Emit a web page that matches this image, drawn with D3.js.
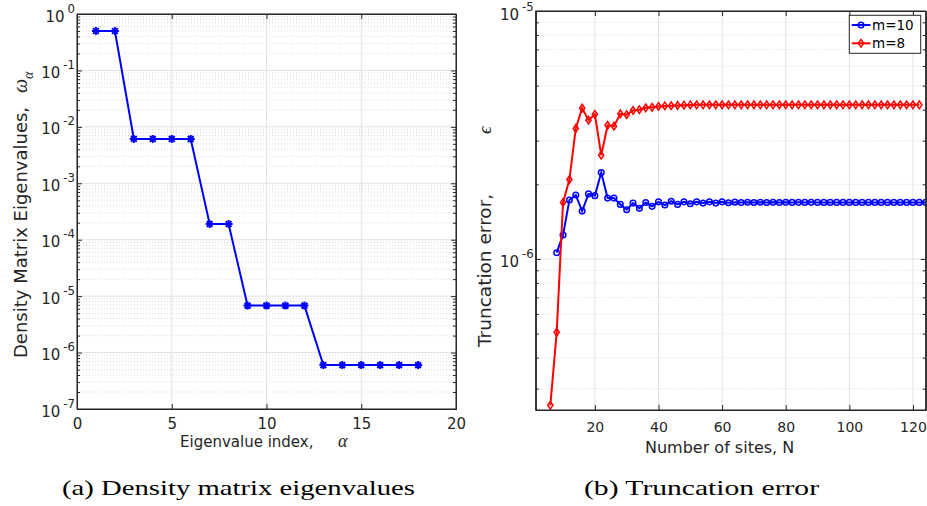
<!DOCTYPE html>
<html><head><meta charset="utf-8">
<script src="https://cdn.jsdelivr.net/npm/d3@7"></script>
<style>
body{margin:0;background:#fff}
svg{display:block}
</style>
</head><body>
<svg id="c" width="927" height="506" font-family="DejaVu Sans"></svg>
<script>
// ---------- data ----------
const eigIndex = [1,2,3,4,5,6,7,8,9,10,11,12,13,14,15,16,17,18];
const eigValues = [5.0e-1,5.0e-1,6.1e-3,6.1e-3,6.1e-3,6.1e-3,1.9e-4,1.9e-4,6.8e-6,6.8e-6,6.8e-6,6.8e-6,6.0e-7,6.0e-7,6.0e-7,6.0e-7,6.0e-7,6.0e-7];
const leftXTicks = [0,5,10,15,20];
const leftYTickExp = [0,-1,-2,-3,-4,-5,-6,-7];

const sitesM10 = [8,10,12,14,16,18,20,22,24,26,28,30,32,34,36,38,40,42,44,46,48,50,52,54,56,58,60,62,64,66,68,70,72,74,76,78,80,82,84,86,88,90,92,94,96,98,100,102,104,106,108,110,112,114,116,118,120,122,124];
const errM10 = [1.06e-6,1.25e-6,1.73e-6,1.81e-6,1.56e-6,1.83e-6,1.80e-6,2.23e-6,1.76e-6,1.76e-6,1.66e-6,1.58e-6,1.68e-6,1.60e-6,1.69e-6,1.63e-6,1.70e-6,1.65e-6,1.71e-6,1.66e-6,1.70e-6,1.67e-6,1.70e-6,1.68e-6,1.70e-6,1.68e-6,1.70e-6,1.685e-6,
  1.695e-6,1.688e-6,1.694e-6,1.689e-6,1.693e-6,1.690e-6,1.692e-6,1.690e-6,1.692e-6,1.691e-6,1.692e-6,1.691e-6,1.692e-6,1.691e-6,1.691e-6,1.691e-6,
  1.691e-6,1.691e-6,1.691e-6,1.691e-6,1.691e-6,1.691e-6,1.691e-6,1.691e-6,1.691e-6,1.691e-6,1.691e-6,1.691e-6,1.691e-6,1.691e-6,1.691e-6];
const sitesM8 = [6,8,10,12,14,16,18,20,22,24,26,28,30,32,34,36,38,40,42,44,46,48,50,52,54,56,58,60,62,64,66,68,70,72,74,76,78,80,82,84,86,88,90,92,94,96,98,100,102,104,106,108,110,112,114,116,118,120,122,124];
const errM8 = [2.57e-7,5.06e-7,1.69e-6,2.09e-6,3.36e-6,4.06e-6,3.63e-6,3.83e-6,2.62e-6,3.46e-6,3.43e-6,3.85e-6,3.82e-6,3.97e-6,4.00e-6,4.07e-6,4.09e-6,4.12e-6,4.14e-6,4.15e-6,4.16e-6,4.17e-6,4.18e-6,
  4.185e-6,4.185e-6,4.185e-6,4.185e-6,4.185e-6,4.185e-6,4.185e-6,4.185e-6,4.185e-6,4.185e-6,4.185e-6,4.185e-6,4.185e-6,4.185e-6,4.185e-6,4.185e-6,4.185e-6,4.185e-6,4.185e-6,4.185e-6,
  4.185e-6,4.185e-6,4.185e-6,4.185e-6,4.185e-6,4.185e-6,4.185e-6,4.185e-6,4.185e-6,4.185e-6,4.185e-6,4.185e-6,4.185e-6,4.185e-6,4.185e-6,4.185e-6];
const rightXTicks = [20,40,60,80,100,120];
const rightYTickExp = [-5,-6];
const legendLabels = ["m=10","m=8"];
const seriesColors = ["#0000ff","#ff0000"];

// ---------- drawing ----------
const svg = d3.select("#c");
const AX = "#262626", GRID = "#e2e2e2", MINOR = "#cfcfcf";
const SANS = "DejaVu Sans", SERIF = "Liberation Serif";

function logPanel(o){
  const {x, y, xTicks, yExp, id} = o;
  const [x0,x1] = x.range(), [y0,y1] = y.range();
  const g = svg.append("g");
  const decades = yExp.map(e=>Math.pow(10,e));
  const minor = y.ticks().filter(v=>Math.abs(Math.log10(v)-Math.round(Math.log10(v)))>1e-6);
  g.append("g").selectAll("line").data(minor).join("line")
    .attr("x1",x0).attr("x2",x1).attr("y1",d=>y(d)).attr("y2",d=>y(d))
    .attr("stroke",MINOR).attr("stroke-dasharray","1,2").attr("stroke-width",0.8);
  g.append("g").selectAll("line").data(decades).join("line")
    .attr("x1",x0).attr("x2",x1).attr("y1",d=>y(d)).attr("y2",d=>y(d))
    .attr("stroke",GRID).attr("stroke-width",1);
  g.append("g").selectAll("line").data(xTicks).join("line")
    .attr("x1",d=>x(d)).attr("x2",d=>x(d)).attr("y1",y0).attr("y2",y1)
    .attr("stroke",GRID).attr("stroke-width",1);
  svg.append("clipPath").attr("id",id).append("rect")
    .attr("x",x0).attr("y",y1).attr("width",x1-x0).attr("height",y0-y1);
  return {g, decades, minor, x0,x1,y0,y1};
}

function axes(p, o){
  const {x, y, xTicks, fx, fy, xBase, yBase} = o;
  const style = sel=>{sel.attr("font-family",SANS); sel.select(".domain").attr("stroke",AX); sel.selectAll(".tick line").attr("stroke",AX);};
  svg.append("g").attr("transform",`translate(0,${p.y0})`)
    .call(d3.axisBottom(x).tickValues(xTicks).tickSizeInner(-5).tickSizeOuter(0).tickPadding(0))
    .call(style).attr("font-size",fx)
    .call(s=>s.selectAll(".tick text").attr("dy",null).attr("y",xBase).attr("fill",AX));
  svg.append("g").attr("transform",`translate(0,${p.y1})`)
    .call(d3.axisTop(x).tickValues(xTicks).tickSizeInner(-5).tickSizeOuter(0).tickFormat(""))
    .call(style);
  svg.append("g").attr("transform",`translate(${p.x0},0)`)
    .call(d3.axisLeft(y).tickValues(p.minor).tickSizeInner(-3).tickSizeOuter(0).tickFormat(""))
    .call(style);
  svg.append("g").attr("transform",`translate(${p.x1},0)`)
    .call(d3.axisRight(y).tickValues(p.minor).tickSizeInner(-3).tickSizeOuter(0).tickFormat(""))
    .call(style);
  svg.append("g").attr("transform",`translate(${p.x1},0)`)
    .call(d3.axisRight(y).tickValues(p.decades).tickSizeInner(-5).tickSizeOuter(0).tickFormat(""))
    .call(style);
  svg.append("g").attr("transform",`translate(${p.x0},0)`)
    .call(d3.axisLeft(y).tickValues(p.decades).tickSizeInner(-5).tickSizeOuter(0).tickPadding(2).tickFormat(""))
    .call(style).attr("font-size",fy)
    .call(s=>s.selectAll(".tick text").each(function(d){
      const t = d3.select(this).attr("dy",null).attr("y",yBase).attr("fill",AX);
      t.append("tspan").text("10");
      t.append("tspan").attr("dx",3).attr("dy",-9).attr("font-size",fy*0.78).text(String(Math.round(Math.log10(d))).replace("\u2212","-"));
    }));
  svg.append("rect").attr("x",p.x0).attr("y",p.y1).attr("width",p.x1-p.x0).attr("height",p.y0-p.y1)
    .attr("fill","none").attr("stroke",AX).attr("stroke-width",1);
}

// ----- left panel -----
const xL = d3.scaleLinear().domain([0,20]).range([77,456]);
const yL = d3.scaleLog().domain([1e-7,1]).range([409,14]);
const pL = logPanel({x:xL,y:yL,xTicks:leftXTicks,yExp:leftYTickExp,id:"clipL"});
const dL = svg.append("g").attr("clip-path","url(#clipL)");
const eig = eigIndex.map((d,i)=>[d,eigValues[i]]);
dL.append("path").datum(eig).attr("fill","none").attr("stroke","#0000ff").attr("stroke-width",2)
  .attr("d",d3.line().x(d=>xL(d[0])).y(d=>yL(d[1])));
const star = "M-4,0H4M0,-4V4M-2.9,-2.9L2.9,2.9M-2.9,2.9L2.9,-2.9";
dL.selectAll(".st").data(eig).join("path").attr("class","st")
  .attr("transform",d=>`translate(${xL(d[0])},${yL(d[1])})`).attr("d",star)
  .attr("stroke","#0000ff").attr("stroke-width",2).attr("fill","none");
axes(pL,{x:xL,y:yL,xTicks:leftXTicks,fx:15,fy:15,xBase:20,yBase:7});

// ----- right panel -----
const xR = d3.scaleLinear().domain([1.4,124]).range([535.7,925.7]);
const yR = d3.scaleLog().domain([2.46e-7,1e-5]).range([410,11]);
const pR = logPanel({x:xR,y:yR,xTicks:rightXTicks,yExp:rightYTickExp,id:"clipR"});
const dR = svg.append("g").attr("clip-path","url(#clipR)");
const m10 = sitesM10.map((d,i)=>[d,errM10[i]]);
const m8 = sitesM8.map((d,i)=>[d,errM8[i]]);
const lineR = d3.line().x(d=>xR(d[0])).y(d=>yR(d[1]));
const diamond = "M0,-3.8L2.6,0L0,3.8L-2.6,0Z";
dR.append("path").datum(m10).attr("fill","none").attr("stroke",seriesColors[0]).attr("stroke-width",2).attr("d",lineR);
dR.selectAll(".ci").data(m10).join("circle").attr("class","ci")
  .attr("cx",d=>xR(d[0])).attr("cy",d=>yR(d[1])).attr("r",2.8)
  .attr("fill","none").attr("stroke",seriesColors[0]).attr("stroke-width",1.5);
dR.append("path").datum(m8).attr("fill","none").attr("stroke",seriesColors[1]).attr("stroke-width",2).attr("d",lineR);
dR.selectAll(".di").data(m8).join("path").attr("class","di")
  .attr("transform",d=>`translate(${xR(d[0])},${yR(d[1])})`).attr("d",diamond)
  .attr("fill","none").attr("stroke",seriesColors[1]).attr("stroke-width",1.5);
axes(pR,{x:xR,y:yR,xTicks:rightXTicks,fx:14,fy:15,xBase:22,yBase:8});

// ----- axis labels -----
const lab = (sel)=>sel.attr("fill",AX);
svg.append("text").call(lab).attr("x",180).attr("y",447).attr("font-size",15).text("Eigenvalue index,");
svg.append("text").call(lab).attr("x",338).attr("y",447).attr("font-size",18)
  .style("font-family",SERIF).style("font-style","italic").text("\u03b1");
svg.append("text").call(lab).attr("transform","translate(27,358) rotate(-90)").attr("font-size",18).text("Density Matrix Eigenvalues,");
const om = svg.append("text").call(lab).attr("transform","translate(27,93) rotate(-90)").attr("font-size",20)
  .style("font-family",SERIF).style("font-style","italic");
om.append("tspan").text("\u03c9");
om.append("tspan").attr("dy",6).attr("font-size",14).text("\u03b1");

svg.append("text").call(lab).attr("x",645).attr("y",453).attr("font-size",16).text("Number of sites, N");
svg.append("text").call(lab).attr("transform","translate(491,347) rotate(-90)").attr("font-size",18.5).text("Truncation error,");
svg.append("text").call(lab).attr("transform","translate(491,134) rotate(-90)").attr("font-size",19)
  .style("font-family",SERIF).style("font-style","italic").text("\u03f5");

// ----- legend -----
const lg = svg.append("g");
lg.append("rect").attr("x",849.3).attr("y",15.3).attr("width",71.4).attr("height",38)
  .attr("fill","#fff").attr("stroke",AX).attr("stroke-width",1);
legendLabels.forEach((t,i)=>{
  const cy = 25 + i*18.3;
  lg.append("line").attr("x1",851.7).attr("x2",870.5).attr("y1",cy).attr("y2",cy)
    .attr("stroke",seriesColors[i]).attr("stroke-width",2);
  if(i===0) lg.append("circle").attr("cx",861).attr("cy",cy).attr("r",2.8).attr("fill","none").attr("stroke",seriesColors[i]).attr("stroke-width",1.5);
  else lg.append("path").attr("transform",`translate(861,${cy})`).attr("d",diamond).attr("fill","none").attr("stroke",seriesColors[i]).attr("stroke-width",1.5);
  lg.append("text").attr("fill","#000").attr("x",872).attr("y",cy+5).attr("font-size",13.5).text(t);
});

// ----- captions -----
svg.append("text").attr("x",62).attr("y",495).attr("font-size",21).style("font-family",SERIF)
  .attr("textLength",353).attr("lengthAdjust","spacingAndGlyphs").attr("fill","#000").text("(a) Density matrix eigenvalues");
svg.append("text").attr("x",584).attr("y",495).attr("font-size",21).style("font-family",SERIF)
  .attr("textLength",235).attr("lengthAdjust","spacingAndGlyphs").attr("fill","#000").text("(b) Truncation error");
</script>
</body></html>
